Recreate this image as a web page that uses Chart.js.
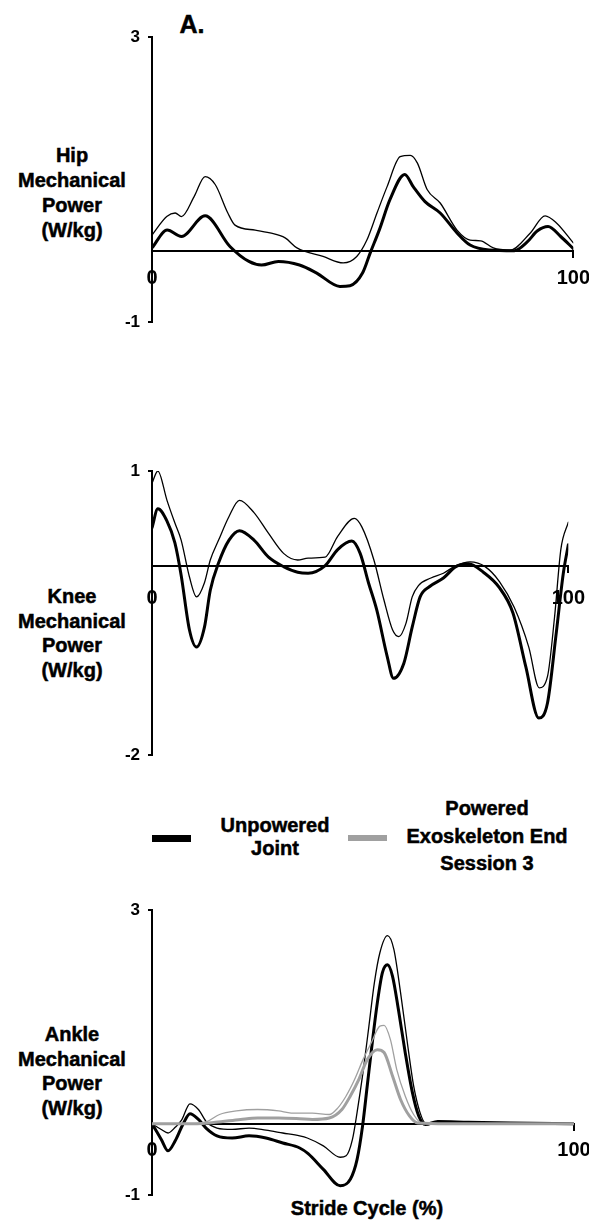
<!DOCTYPE html>
<html>
<head>
<meta charset="utf-8">
<script src="https://cdn.jsdelivr.net/npm/chart.js@4/dist/chart.umd.min.js"></script>
<style>
  html, body { margin: 0; padding: 0; background: #fff; overflow: hidden; }
  body { width: 589px; height: 1226px; position: relative; font-family: 'Liberation Sans', Arial, sans-serif; font-weight: bold; color: #000; }
  canvas { position: absolute; left: 0; }
  .lbl { position: absolute; text-align: center; white-space: nowrap; transform: translateX(-50%); font-size: 20px; -webkit-text-stroke: 0.5px #000; }
  .swatch { position: absolute; }
</style>
</head>
<body>
<div class="lbl" style="left:192px; top:9px; font-size:25px; line-height:30px;">A.</div>

<div class="lbl" style="left:72px; top:143px; line-height:25px;">Hip<br>Mechanical<br>Power<br>(W/kg)</div>
<div class="lbl" style="left:72px; top:584px; line-height:24.5px;">Knee<br>Mechanical<br>Power<br>(W/kg)</div>
<div class="lbl" style="left:72px; top:1022px; line-height:24.5px;">Ankle<br>Mechanical<br>Power<br>(W/kg)</div>

<div class="swatch" style="left:152px; top:835px; width:39px; height:7px; background:#000;"></div>
<div class="lbl" style="left:275px; top:814px; line-height:23px;">Unpowered<br>Joint</div>
<div class="swatch" style="left:348px; top:835px; width:39px; height:6px; background:#a0a0a0;"></div>
<div class="lbl" style="left:487px; top:795px; line-height:27.5px;">Powered<br>Exoskeleton End<br>Session 3</div>

<div class="lbl" style="left:367px; top:1196px; line-height:24px;">Stride Cycle (%)</div>

<canvas id="hip" width="600" height="325" style="top:17px"></canvas>
<canvas id="knee" width="600" height="324" style="top:451px"></canvas>
<canvas id="ankle" width="600" height="325" style="top:890px"></canvas>

<script>
const xTicks = [0, 100];

// Hip: thick = mean, thin = mean + SD (unpowered)
const hipThickX = [0, 3.6, 7, 12.6, 18.5, 23, 26, 30, 35, 39, 44.6, 47, 50, 51.8, 54, 56.5, 60, 62, 64.8, 68.4, 72.4, 75.5, 80, 86, 89, 91.5, 94, 97, 100];
const hipThickY = [0.04, 0.29, 0.2, 0.49, 0.06, -0.15, -0.2, -0.15, -0.2, -0.31, -0.5, -0.49, -0.31, -0.03, 0.3, 0.72, 1.07, 0.9, 0.69, 0.53, 0.25, 0.08, 0.01, 0, 0.12, 0.28, 0.34, 0.2, 0.03];
const hipThinX = [0, 3.5, 5.5, 7, 10, 12.6, 15, 18, 19.7, 24.5, 28, 31.6, 34.4, 40.6, 45.4, 48.6, 51, 53.4, 55.8, 58.9, 61.3, 63, 65.3, 68.4, 72.4, 75.5, 78, 81, 85, 89.8, 93.3, 96, 100];
const hipThinY = [0.22, 0.48, 0.53, 0.48, 0.76, 1.04, 0.93, 0.53, 0.36, 0.29, 0.25, 0.18, 0.04, -0.08, -0.17, -0.08, 0.15, 0.53, 0.9, 1.32, 1.34, 1.23, 0.86, 0.67, 0.29, 0.15, 0.14, 0.04, 0.01, 0.25, 0.49, 0.39, 0.11];

// Knee
const kneeThickX = [0, 1.4, 3.6, 5.5, 7, 9, 10.7, 12.6, 14, 16, 18.5, 21, 24.5, 28, 31.6, 35, 37.5, 41.6, 44.6, 48, 50, 52, 54, 56.5, 58, 60.5, 62.5, 64.4, 66.7, 70, 73, 76, 79.6, 83.4, 86.7, 89.8, 92.9, 95, 97, 98.8, 100];
const kneeThickY = [0.4, 0.6, 0.47, 0.24, -0.1, -0.68, -0.86, -0.65, -0.26, 0.03, 0.27, 0.37, 0.27, 0.09, -0.01, -0.07, -0.08, 0, 0.17, 0.26, 0.13, -0.18, -0.47, -0.96, -1.19, -1.03, -0.65, -0.33, -0.22, -0.13, -0.01, 0.02, -0.07, -0.23, -0.5, -1.07, -1.61, -1.45, -0.75, -0.08, 0.22];
const kneeThinX = [0, 1.4, 3.6, 5.5, 7, 9, 10.7, 12.6, 14, 16, 18.5, 21, 24.5, 28, 31.6, 35, 37.5, 41.6, 44.6, 48.6, 50.4, 53.3, 55.7, 57.8, 59.3, 61, 62.5, 64, 67, 70, 73, 76.4, 80, 83.5, 87, 90.5, 93, 95, 96.7, 98.2, 100];
const kneeThinY = [0.87, 1.0, 0.69, 0.45, 0.27, -0.12, -0.33, -0.18, 0.06, 0.27, 0.52, 0.69, 0.56, 0.34, 0.13, 0.06, 0.08, 0.09, 0.31, 0.5, 0.41, 0.06, -0.36, -0.68, -0.75, -0.61, -0.33, -0.21, -0.13, -0.08, 0, 0.04, -0.01, -0.17, -0.44, -0.86, -1.29, -1.17, -0.54, 0.17, 0.46];

// Ankle, unpowered (black) and powered end of session 3 (gray)
const ankleThickX = [0, 2.2, 3.8, 5.5, 7.4, 9, 11, 12.8, 15.4, 19, 23, 27, 31, 35, 37, 40.6, 44.6, 47, 48.6, 49.9, 51, 52.2, 53.4, 54.6, 55.8, 57, 58.4, 60, 61.7, 63.2, 64.8, 67.7, 75, 85, 100];
const ankleThickY = [0, -0.22, -0.38, -0.24, 0, 0.14, 0.06, -0.06, -0.17, -0.2, -0.17, -0.2, -0.27, -0.34, -0.42, -0.64, -0.87, -0.78, -0.5, -0.03, 0.53, 1.14, 1.7, 2.12, 2.23, 2.07, 1.6, 1.0, 0.44, 0.11, -0.01, 0.03, 0.02, 0.01, 0];
const ankleThinX = [0, 2.2, 3.8, 5.5, 7, 9, 11, 13, 15.4, 19, 23, 27, 31, 35, 36.8, 40.6, 44.6, 46, 47.5, 48.6, 50, 51.4, 52.7, 54, 55.8, 57.3, 58.9, 60.5, 62, 63.5, 64.8, 70, 85, 100];
const ankleThinY = [0, -0.08, -0.13, -0.05, 0.05, 0.28, 0.2, 0.02, -0.06, -0.08, -0.06, -0.09, -0.13, -0.17, -0.2, -0.31, -0.47, -0.45, -0.22, 0.16, 0.72, 1.37, 1.98, 2.4, 2.64, 2.45, 1.84, 1.14, 0.53, 0.16, 0.01, 0.02, 0.01, 0];
const poweredThickX = [0, 10, 15, 21, 25, 30, 35, 38, 42, 45, 47, 49, 51, 53.4, 55, 57, 58.9, 61, 63, 70, 100];
const poweredThickY = [0, 0, 0.02, 0.06, 0.08, 0.08, 0.07, 0.06, 0.08, 0.2, 0.39, 0.62, 0.9, 1.04, 1.0, 0.67, 0.34, 0.11, 0.01, 0, 0];
const poweredThinX = [0, 10, 13, 16, 20, 25, 30, 33, 38, 42, 44, 46, 48, 50, 52, 54, 55, 56.5, 58, 60, 62, 64, 70, 100];
const poweredThinY = [0, 0, 0.03, 0.13, 0.18, 0.2, 0.18, 0.15, 0.15, 0.13, 0.22, 0.39, 0.62, 0.9, 1.14, 1.37, 1.38, 1.18, 0.76, 0.39, 0.13, 0.01, 0, 0];

const BLACK = '#000000';
const GRAY = '#a0a0a0';
const fontFam = "'Liberation Sans', Arial, sans-serif";

function series(xs, ys, color, width) {
  return {
    data: xs.map((x, i) => ({ x: x, y: ys[i] })),
    borderColor: color,
    borderWidth: width,
    pointRadius: 0,
    fill: false,
    cubicInterpolationMode: 'monotone',
    borderJoinStyle: 'round',
    borderCapStyle: 'round'
  };
}

function makePanel(id, yMin, yMax, datasets, labelPad) {
  return new Chart(document.getElementById(id), {
    type: 'line',
    data: { datasets: datasets },
    options: {
      responsive: false,
      animation: false,
      events: [],
      layout: { padding: { left: 0, right: 26, top: 20, bottom: 20 } },
      plugins: { legend: { display: false }, tooltip: { enabled: false } },
      scales: {
        x: {
          type: 'linear',
          min: 0,
          max: 100,
          position: { y: 0 },
          border: { color: BLACK, width: 2 },
          grid: { drawOnChartArea: false, tickLength: 6, color: BLACK, lineWidth: 2 },
          ticks: { color: BLACK, padding: labelPad, maxRotation: 0, autoSkip: false,
                   font: { family: fontFam, size: 20, weight: 'bold' } },
          afterBuildTicks: s => { s.ticks = xTicks.map(v => ({ value: v })); }
        },
        y: {
          min: yMin,
          max: yMax,
          border: { color: BLACK, width: 2 },
          grid: { drawOnChartArea: false, tickLength: 4, color: BLACK, lineWidth: 2 },
          ticks: { color: BLACK, padding: 8, font: { family: fontFam, size: 17, weight: 'bold' } },
          afterBuildTicks: s => { s.ticks = [{ value: yMin }, { value: yMax }]; },
          afterFit: s => { s.width = 152; }
        }
      }
    }
  });
}

makePanel('hip', -1, 3, [
  series(hipThickX, hipThickY, BLACK, 3),
  series(hipThinX, hipThinY, BLACK, 1.3)
], 10);

makePanel('knee', -2, 1, [
  series(kneeThickX, kneeThickY, BLACK, 3),
  series(kneeThinX, kneeThinY, BLACK, 1.3)
], 15);

makePanel('ankle', -1, 3, [
  series(poweredThickX, poweredThickY, GRAY, 3),
  series(poweredThinX, poweredThinY, GRAY, 1.3),
  series(ankleThickX, ankleThickY, BLACK, 3),
  series(ankleThinX, ankleThinY, BLACK, 1.3)
], 9);
</script>
</body>
</html>
